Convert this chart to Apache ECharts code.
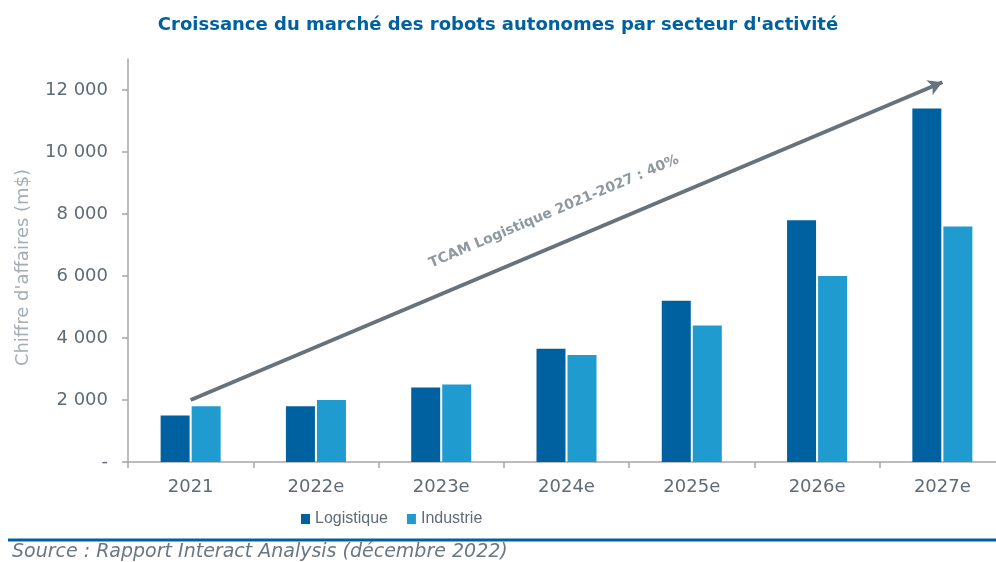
<!DOCTYPE html>
<html>
<head>
<meta charset="utf-8">
<script src="https://cdn.jsdelivr.net/npm/echarts@6/dist/echarts.min.js"></script>
<style>
  html, body { margin: 0; padding: 0; background: #fff; }
  #chart { width: 996px; height: 562px; }
</style>
</head>
<body>
<div id="chart"></div>
<script>
// données
const annees = ["2021", "2022e", "2023e", "2024e", "2025e", "2026e", "2027e"];
const logistique = [1500, 1800, 2400, 3650, 5200, 7800, 11400];
const industrie = [1800, 2000, 2500, 3450, 4400, 6000, 7600];
const graduations = [0, 2000, 4000, 6000, 8000, 10000, 12000];
// flèche TCAM : début et fin (en unités du graphique)
const tcamDebut = ["2021", 2000];
const tcamFin = ["2027e", 12250];

// police large pour coller aux largeurs de texte du modèle
const FONT = "DejaVu Sans, Verdana, sans-serif";
const FONT_LEGENDE = "Liberation Sans, Arial, sans-serif";
const GRIS_AXE = "#a6a6a6";
const GRIS_TEXTE = "#5f6b75";

function formatMillier(v) {
  if (v === 0) return "-";
  return String(v).replace(/\B(?=(\d{3})+(?!\d))/g, " ");
}

const chart = echarts.init(document.getElementById("chart"));

const option = {
  animation: false,
  textStyle: { fontFamily: FONT },
  title: {
    text: "Croissance du marché des robots autonomes par secteur d'activité",
    left: "center",
    top: 11,
    textStyle: { fontSize: 18, fontWeight: "bold", color: "#0061a0", fontFamily: FONT },
  },
  legend: {
    left: 301,
    top: 511,
    padding: 0,
    itemWidth: 9,
    itemHeight: 10,
    itemGap: 19,
    icon: "rect",
    textStyle: { fontSize: 16, color: GRIS_TEXTE, fontFamily: FONT_LEGENDE },
    data: ["Logistique", "Industrie"],
  },
  grid: {
    left: 128,
    right: -9,
    top: 59,
    bottom: 100,
    containLabel: false,
    outerBoundsMode: "none",
  },
  xAxis: {
    type: "category",
    data: annees,
    axisLine: { lineStyle: { color: GRIS_AXE, width: 1.5 } },
    axisTick: { show: true, length: 6, lineStyle: { color: GRIS_AXE, width: 1.5 } },
    axisLabel: { fontSize: 18, color: GRIS_TEXTE, margin: 16, fontFamily: FONT },
  },
  yAxis: {
    type: "value",
    min: 0,
    max: 13000,
    interval: 2000,
    name: "Chiffre d'affaires (m$)",
    nameLocation: "middle",
    nameGap: 96,
    nameRotate: 90,
    nameTextStyle: { fontSize: 18, color: "#a3adb4", fontFamily: FONT, padding: [0, 14, 0, 0] },
    axisLine: { show: true, lineStyle: { color: GRIS_AXE, width: 1.5 } },
    axisTick: {
      show: true,
      length: 6,
      customValues: graduations,
      lineStyle: { color: GRIS_AXE, width: 1.5 },
    },
    axisLabel: {
      fontSize: 18,
      color: GRIS_TEXTE,
      margin: 20,
      fontFamily: FONT,
      customValues: graduations,
      formatter: formatMillier,
    },
    splitLine: { show: false },
  },
  series: [
    {
      name: "Logistique",
      type: "bar",
      data: logistique,
      barWidth: 29,
      barGap: "7%",
      itemStyle: { color: "#0061a0" },
    },
    {
      name: "Industrie",
      type: "bar",
      data: industrie,
      barWidth: 29,
      barGap: "7%",
      itemStyle: { color: "#1f9bd0" },
    },
    {
      // série vide qui porte seulement la flèche TCAM, centrée sur les catégories
      name: "TCAM",
      type: "line",
      data: [],
      markLine: {
        silent: true,
        symbol: ["none", "arrow"],
        symbolSize: [12, 14],
        lineStyle: { color: "#66737d", width: 4, type: "solid" },
        label: {
          show: true,
          position: "insideMiddleTop",
          distance: 25,
          formatter: "TCAM Logistique 2021-2027 : 40%",
          fontSize: 14,
          fontWeight: "bold",
          color: "#8d989f",
          fontFamily: FONT,
        },
        emphasis: { disabled: true },
        data: [[{ coord: tcamDebut }, { coord: tcamFin }]],
      },
    },
  ],
  graphic: [
    {
      type: "line",
      shape: { x1: 8, y1: 540, x2: 996, y2: 540 },
      style: { stroke: "#0061a0", lineWidth: 3 },
    },
    {
      type: "text",
      left: 12,
      top: 543,
      style: {
        text: "Source : Rapport Interact Analysis (décembre 2022)",
        fontSize: 19,
        fontStyle: "italic",
        fill: "#6b7780",
        fontFamily: FONT,
      },
    },
  ],
};

chart.setOption(option);
</script>
</body>
</html>
